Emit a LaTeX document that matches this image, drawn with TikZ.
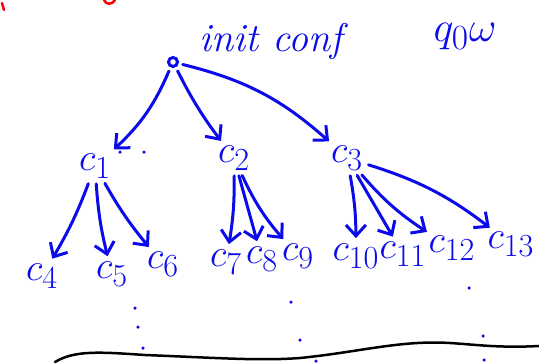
\documentclass[tikz,border=0pt]{standalone}
\usepackage{amsmath}
\usepackage{tikz}
\usetikzlibrary{arrows.meta,positioning,calc}
\definecolor{pen}{RGB}{10,10,235}

\begin{document}
\begin{tikzpicture}[
  x=1pt,y=-1pt,
  lbl/.style={text=pen,inner sep=1pt,font=\fontsize{24.88}{26}\selectfont,scale=1.55,transform shape},
  arr/.style={-{Straight Barb[length=11pt,width=20pt,line width=3pt]},pen,line width=3pt,line cap=round,shorten >=4pt,shorten <=4pt},
  dot/.style={circle,fill=pen,inner sep=0pt,minimum size=3.5pt}
]
\useasboundingbox (0,0) rectangle (539,364);
\node[circle,draw=pen,line width=3pt,inner sep=0pt,minimum size=9pt] (root) at (173,62) {};
\node[text=pen,anchor=west,font=\fontsize{40}{40}\selectfont\itshape] (conf) at (196,42) {init conf};
\node[lbl,scale=1.1] (qw) at (465,36) {$q_0\omega$};
\node[lbl] (c1) at (95,166) {$c_1$};
\node[lbl] (c2) at (234,158) {$c_2$};
\node[lbl] (c3) at (347,158) {$c_3$};
\node[lbl] (c4) at (42,276) {$c_4$};
\node[lbl] (c5) at (112,274) {$c_5$};
\node[lbl] (c6) at (163,264) {$c_6$};
\node[lbl] (c7) at (226,262) {$c_7$};
\node[lbl] (c8) at (262,259) {$c_8$};
\node[lbl] (c9) at (298,256) {$c_9$};
\node[lbl] (c10) at (356,256) {$c_{10}$};
\node[lbl] (c11) at (403,254) {$c_{11}$};
\node[lbl] (c12) at (452,248) {$c_{12}$};
\node[lbl] (c13) at (511,244) {$c_{13}$};
\draw[arr] (root) to[bend left=12] (c1);
\draw[arr] (root) to[bend right=5] (c2);
\draw[arr] (root) to[bend left=14] (c3);
\draw[arr] (c1) to[bend left=5] (c4);
\draw[arr] (c1) to[bend right=5] (c5);
\draw[arr] (c1) to[bend right=5] (c6);
\draw[arr] (c2) to[bend left=5] (c7);
\draw[arr] (c2) to (c8);
\draw[arr] (c2) to[bend right=8] (c9);
\draw[arr] (c3) to[bend left=5] (c10);
\draw[arr] (c3) to (c11);
\draw[arr] (c3) to[bend right=8] (c12);
\draw[arr] (c3) to[bend left=10] (c13);
% dots trailing off below the tree
\foreach \p in {(120,152),(144,152),(135,308),(138,327),(143,348),(291,302),(300,340),(316,361),(469,288),(483,336),(484,360)}
  \node[dot] at \p {};
\draw[black,line width=2.5pt,line cap=round] (55,362) .. controls (75,350) and (100,352) .. (145,355)
  .. controls (220,358) and (260,361) .. (300,358) .. controls (360,352) and (400,340) .. (450,343)
  .. controls (480,345) and (500,348) .. (539,346);
% red pen, cut off at the top
\draw[red,line width=2.5pt,line cap=round] (2,3) -- (4,10);
\draw[red,line width=2.5pt,line cap=round] (104,0) .. controls (106,5) and (112,5) .. (115,0);
\end{tikzpicture}
\end{document}
